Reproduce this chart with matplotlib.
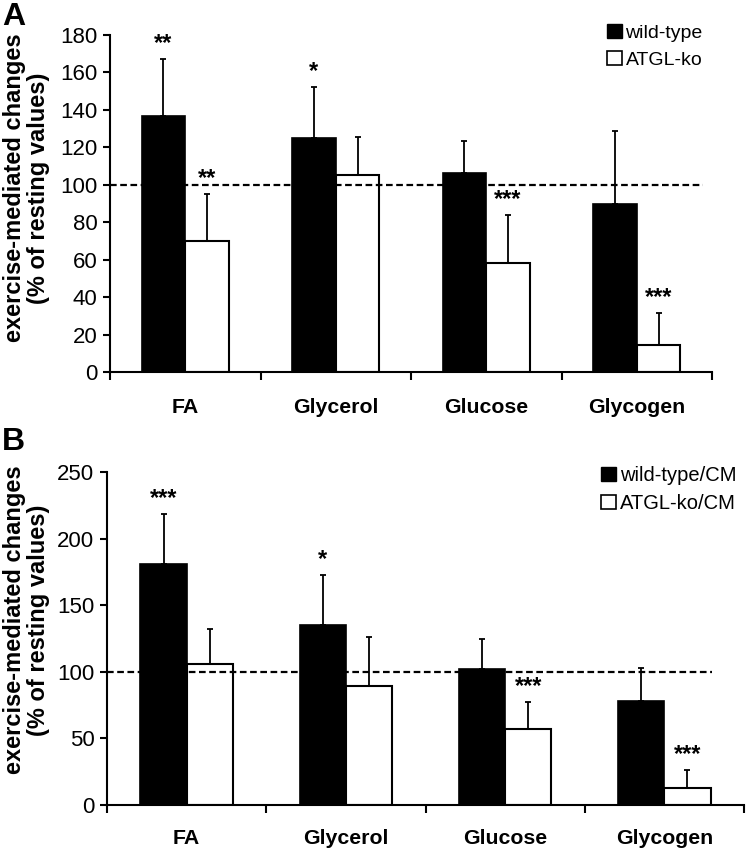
import numpy as np
import matplotlib
matplotlib.use('Agg')
import matplotlib.pyplot as plt
from matplotlib.patches import Patch

plt.rcParams['font.family'] = ['Liberation Sans', 'DejaVu Sans']
plt.rcParams['font.size'] = 16

categories = ['FA', 'Glycerol', 'Glucose', 'Glycogen']

# Panel A
a_labels = ['wild-type', 'ATGL-ko']
a_wt = [137, 125, 106.5, 89.5]
a_wt_err = [30, 27, 17, 39]
a_ko = [70, 105, 58, 14.5]
a_ko_err = [25, 20.5, 26, 17]
a_wt_sig = ['**', '*', '', '']
a_ko_sig = ['**', '', '***', '***']

# Panel B
b_labels = ['wild-type/CM', 'ATGL-ko/CM']
b_wt = [180.7, 135, 102.3, 78]
b_wt_err = [38, 37.5, 22.5, 24.5]
b_ko = [106, 89.6, 57, 12.5]
b_ko_err = [26, 36.8, 20, 13.5]
b_wt_sig = ['***', '*', '', '']
b_ko_sig = ['', '', '***', '***']

fig = plt.figure(figsize=(7.48, 8.5), dpi=100)
axA = fig.add_axes([110 / 748, 1 - 372 / 850, 602 / 748, 337 / 850])
axB = fig.add_axes([107 / 748, 1 - 805 / 850, 637 / 748, 333 / 850])


def draw_panel(ax, wt, wt_err, ko, ko_err, wt_sig, ko_sig, ymax, ystep, labels,
               dash_end, leg_xy, leg_fs, letter, letter_y, lab_xy, cat_pad):
    x = np.arange(len(categories))
    w = 0.29
    ekw = dict(elinewidth=1.3, capthick=1.3, capsize=2)
    ax.bar(x + 0.5 - w / 2, wt, w, color='black', edgecolor='black', lw=1.2, zorder=2)
    ax.bar(x + 0.5 + w / 2, ko, w, color='white', edgecolor='black', lw=1.5, zorder=2)
    ax.errorbar(x + 0.5 - w / 2, wt, yerr=[np.zeros(len(wt)), wt_err], fmt='none',
                ecolor='black', zorder=1, **ekw)
    ax.errorbar(x + 0.5 + w / 2, ko, yerr=[np.zeros(len(ko)), ko_err], fmt='none',
                ecolor='black', zorder=1, **ekw)
    ax.axhline(100, xmin=0, xmax=dash_end / len(categories), color='black', lw=1.6,
               ls=(0, (3, 1.6)), zorder=3)

    # significance stars above the error bars
    for xi, v, e, s in zip(x + 0.5 - w / 2, wt, wt_err, wt_sig):
        if s:
            ax.annotate(s, (xi, v + e), xytext=(0, 3), textcoords='offset points',
                        ha='center', va='bottom', fontsize=17, fontweight='bold')
    for xi, v, e, s in zip(x + 0.5 + w / 2, ko, ko_err, ko_sig):
        if s:
            ax.annotate(s, (xi, v + e), xytext=(0, 3), textcoords='offset points',
                        ha='center', va='bottom', fontsize=17, fontweight='bold')

    ax.set_xlim(0, len(categories))
    ax.set_ylim(0, ymax)
    ax.set_yticks(np.arange(0, ymax + 1, ystep))
    ax.set_xticks(np.arange(len(categories) + 1))
    ax.set_xticklabels([])
    ax.set_xticks(x + 0.5, minor=True)
    ax.set_xticklabels(categories, minor=True, fontweight='bold', fontsize=15.3)
    ax.tick_params(axis='x', which='major', length=6, width=1.5, direction='out')
    ax.tick_params(axis='x', which='minor', length=0, pad=cat_pad)
    ax.tick_params(axis='y', length=5, width=1.5, direction='out', pad=4)
    for sp in ['top', 'right']:
        ax.spines[sp].set_visible(False)
    for sp in ['left', 'bottom']:
        ax.spines[sp].set_linewidth(1.5)

    ax.set_ylabel('exercise-mediated changes\n(% of resting values)', fontweight='bold',
                  fontsize=17, linespacing=1.05)
    ax.yaxis.set_label_coords(*lab_xy, transform=ax.transAxes)

    handles = [Patch(facecolor='black', edgecolor='black'),
               Patch(facecolor='white', edgecolor='black', lw=1.2)]
    fig.legend(handles, labels, loc='upper left', bbox_to_anchor=leg_xy, frameon=False,
               handlelength=0.75, handleheight=0.75, handletextpad=0.2,
               labelspacing=0.45, borderpad=0, borderaxespad=0, fontsize=leg_fs)
    fig.text(0.003, letter_y, letter, fontsize=23, fontweight='bold', va='top', ha='left')


draw_panel(axA, a_wt, a_wt_err, a_ko, a_ko_err, a_wt_sig, a_ko_sig, 180, 20, a_labels,
           3.94, (607 / 748, 1 - 24 / 850), 14, 'A', 1 - 2 / 850, (-0.1, 0.546), 18.5)
draw_panel(axB, b_wt, b_wt_err, b_ko, b_ko_err, b_wt_sig, b_ko_sig, 250, 50, b_labels,
           3.8, (601 / 748, 1 - 466 / 850), 14.5, 'B', 1 - 427 / 850, (-0.09, 0.556), 17)

fig.savefig('out.png', dpi=100)
